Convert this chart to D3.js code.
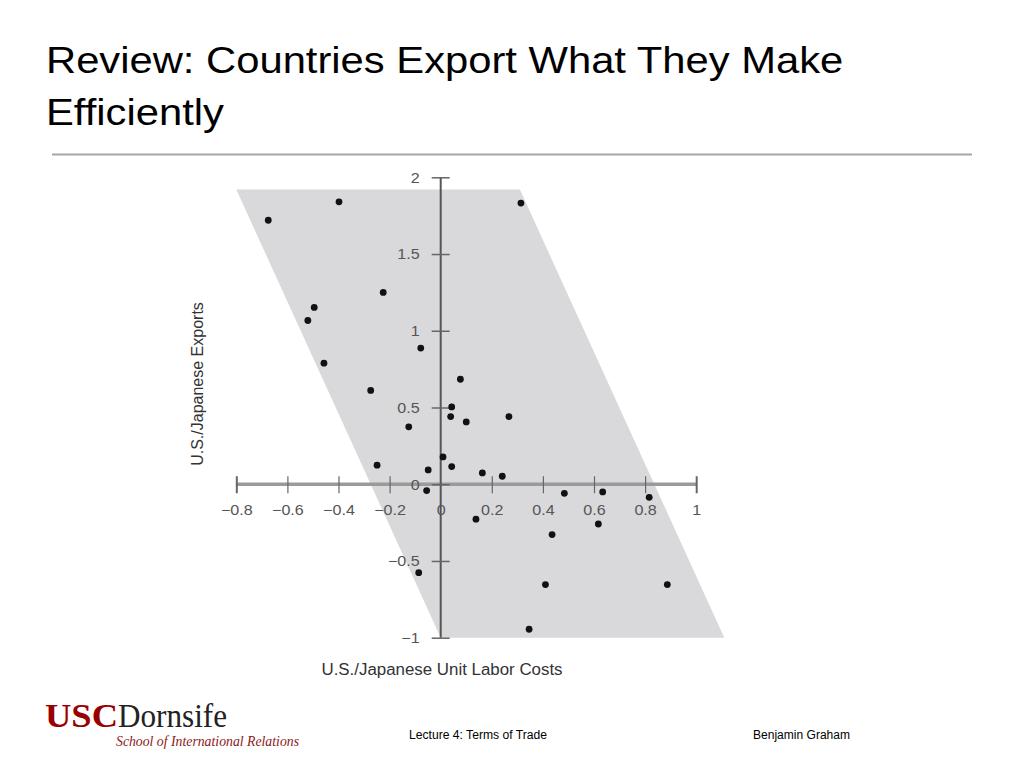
<!DOCTYPE html>
<html>
<head>
<meta charset="utf-8">
<script src="https://cdn.jsdelivr.net/npm/d3@7"></script>
<style>
  html, body { margin: 0; padding: 0; background: #fff; }
  svg { display: block; }
</style>
</head>
<body>
<svg id="chart" width="1024" height="768"></svg>
<script>
// ---- Data ----
const titleLines = ["Review: Countries Export What They Make", "Efficiently"];
const xLabel = "U.S./Japanese Unit Labor Costs";
const yLabel = "U.S./Japanese Exports";
const xTicks = [-0.8, -0.6, -0.4, -0.2, 0, 0.2, 0.4, 0.6, 0.8, 1];
const yTicks = [-1, -0.5, 0, 0.5, 1, 1.5, 2];

// shaded band (parallelogram corners)
const bandX = [-0.8, 0.31, 1.11, 0.0];
const bandY = [1.92, 1.92, -1.0, -1.0];

// scatter points
const pointX = [-0.675, -0.398, 0.314, -0.225, -0.495, -0.52, -0.078, -0.457, 0.077, -0.274,
                0.043, 0.039, 0.100, 0.267, -0.125, -0.249, 0.009, 0.043, -0.049, -0.055,
                0.163, 0.241, 0.484, 0.634, 0.816, 0.138, 0.617, 0.436, -0.086, 0.41,
                0.887, 0.346];
const pointY = [1.72, 1.84, 1.832, 1.25, 1.152, 1.067, 0.887, 0.789, 0.684, 0.611,
                0.504, 0.441, 0.406, 0.441, 0.374, 0.124, 0.178, 0.115, 0.093, -0.041,
                0.074, 0.052, -0.059, -0.050, -0.085, -0.228, -0.259, -0.328, -0.576, -0.654,
                -0.654, -0.945];

const footerCenter = "Lecture 4: Terms of Trade";
const footerRight = "Benjamin Graham";
const logoA = "USC", logoB = "Dornsife", logoC = "School of International Relations";

// ---- Drawing ----
const svg = d3.select("#chart");
const sans = "'Liberation Sans', Arial, Helvetica, sans-serif";
const serif = "'Liberation Serif', 'Times New Roman', serif";

// Title
titleLines.forEach((t, i) => {
  svg.append("text")
    .attr("transform", `translate(46, ${73 + i * 52}) scale(1.16,1)`)
    .attr("font-family", sans).attr("font-size", 36).attr("fill", "#000")
    .text(t);
});

// Rule
svg.append("line").attr("x1", 52).attr("x2", 972).attr("y1", 154.5).attr("y2", 154.5)
  .attr("stroke", "#a6a6a6").attr("stroke-width", 2);

const x = d3.scaleLinear().domain([-0.8, 1]).range([236.3, 696.2]);
const y = d3.scaleLinear().domain([-1, 2]).range([637.7, 177.3]);

// Band
const bandPts = bandX.map((v, i) => [x(v), y(bandY[i])]);
svg.append("polygon")
  .attr("points", bandPts.map(p => p.join(",")).join(" "))
  .attr("fill", "#d9d9db");

// X axis (through y=0)
const xAxis = d3.axisBottom(x).tickValues(xTicks).tickSize(0)
  .tickFormat(d3.format(".1~f")).tickPadding(0);
const gx = svg.append("g").attr("transform", `translate(0,${y(0)})`).call(xAxis);
gx.select(".domain").attr("stroke", "#9a9a9a").attr("stroke-width", 3.5)
  .attr("d", `M${x(-0.8)},0H${x(1)}`);
gx.selectAll(".tick line")
  .attr("y1", -8).attr("y2", 9)
  .attr("stroke", "#666")
  .attr("stroke-width", d => (d === -0.8 || d === 1) ? 2 : 1.2);
gx.selectAll(".tick").filter(d => d === 0).select("line").remove();
gx.selectAll(".tick text")
  .attr("y", 0).attr("dy", "0.35em")
  .attr("transform", "translate(0,26) scale(1.15,1)")
  .attr("font-family", sans).attr("font-size", 14).attr("fill", "#555");

// Y axis (through x=0)
const yAxis = d3.axisLeft(y).tickValues(yTicks).tickSize(0)
  .tickFormat(d3.format(".1~f")).tickPadding(0);
const gy = svg.append("g").attr("transform", `translate(${x(0)},0)`).call(yAxis);
gy.select(".domain").attr("stroke", "#555").attr("stroke-width", 2)
  .attr("d", `M0,${y(2)}V${y(-1)}`);
gy.selectAll(".tick line").attr("x1", -9).attr("x2", 9)
  .attr("stroke", "#666").attr("stroke-width", 1.5);
gy.selectAll(".tick text")
  .attr("x", 0).attr("dy", "0.35em").attr("text-anchor", "end")
  .attr("transform", "translate(-21,0) scale(1.15,1)")
  .attr("font-family", sans).attr("font-size", 14).attr("fill", "#555");

// Points
svg.append("g").selectAll("circle")
  .data(pointX.map((v, i) => [v, pointY[i]]))
  .join("circle")
  .attr("cx", d => x(d[0])).attr("cy", d => y(d[1]))
  .attr("r", 3.4).attr("fill", "#111");

// Axis labels
svg.append("text")
  .attr("x", 442).attr("y", 675).attr("text-anchor", "middle")
  .attr("font-family", sans).attr("font-size", 16).attr("fill", "#333")
  .attr("textLength", 241).attr("lengthAdjust", "spacingAndGlyphs")
  .text(xLabel);
svg.append("text")
  .attr("transform", "translate(203,384) rotate(-90)")
  .attr("text-anchor", "middle")
  .attr("font-family", sans).attr("font-size", 16).attr("fill", "#333")
  .text(yLabel);

// Footer
svg.append("text").attr("x", 409).attr("y", 739)
  .attr("font-family", sans).attr("font-size", 12).attr("fill", "#000")
  .attr("textLength", 138).attr("lengthAdjust", "spacingAndGlyphs")
  .text(footerCenter);
svg.append("text").attr("x", 753).attr("y", 739)
  .attr("font-family", sans).attr("font-size", 12).attr("fill", "#000")
  .attr("textLength", 97).attr("lengthAdjust", "spacingAndGlyphs")
  .text(footerRight);

// Logo
svg.append("text").attr("x", 45).attr("y", 727)
  .attr("font-family", serif).attr("font-size", 33).attr("font-weight", "bold")
  .attr("fill", "#990000")
  .attr("textLength", 73).attr("lengthAdjust", "spacingAndGlyphs")
  .text(logoA);
svg.append("text").attr("x", 118).attr("y", 727)
  .attr("font-family", serif).attr("font-size", 33)
  .attr("fill", "#222")
  .attr("textLength", 109).attr("lengthAdjust", "spacingAndGlyphs")
  .text(logoB);
svg.append("text").attr("x", 116).attr("y", 746)
  .attr("font-family", serif).attr("font-size", 15).attr("font-style", "italic")
  .attr("fill", "#8b1a1a")
  .attr("textLength", 183).attr("lengthAdjust", "spacingAndGlyphs")
  .text(logoC);
</script>
</body>
</html>
